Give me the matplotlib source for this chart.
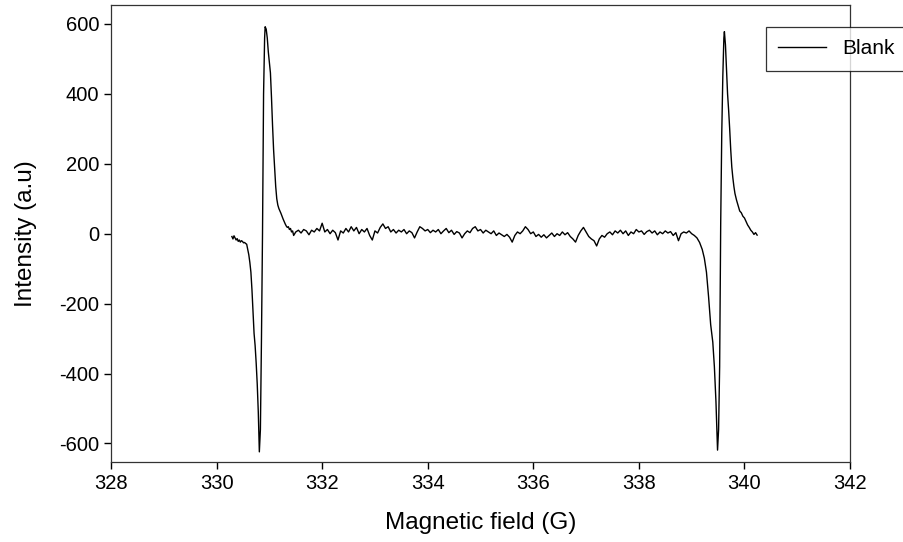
import numpy as np
import matplotlib.pyplot as plt

plt.rcParams['font.family'] = ['Liberation Sans', 'DejaVu Sans']
plt.rcParams['axes.unicode_minus'] = False

# left line (start, dip, peak, decay)
field_left = [330.29, 330.31, 330.33, 330.35, 330.37, 330.39, 330.41, 330.43, 330.45, 330.47,
              330.49, 330.51, 330.53, 330.55, 330.57, 330.59, 330.61, 330.63, 330.65, 330.67,
              330.69, 330.71, 330.73, 330.75, 330.77, 330.79, 330.81, 330.83, 330.85, 330.87,
              330.89, 330.91, 330.92, 330.94, 330.96, 330.98, 331.00, 331.02, 331.04, 331.06,
              331.08, 331.10, 331.12, 331.14, 331.16, 331.18, 331.20, 331.22, 331.24, 331.26,
              331.28, 331.30, 331.32, 331.34, 331.36, 331.38, 331.40, 331.42, 331.44, 331.46]
int_left = [-8, -15, -6, -12, -18, -14, -22, -18, -24, -20,
            -22, -26, -25, -28, -30, -45, -60, -82, -110, -160,
            -220, -285, -320, -370, -430, -510, -624, -560, -304, 0,
            400, 560, 592, 585, 560, 520, 490, 460, 390, 310,
            240, 185, 135, 100, 82, 72, 65, 58, 50, 42,
            35, 28, 22, 18, 20, 12, 15, 5, 8, -5]

# flat noisy baseline between the lines
field_mid = [331.50, 331.55, 331.60, 331.65, 331.70, 331.75, 331.80, 331.85, 331.90, 331.95,
             332.00, 332.05, 332.10, 332.15, 332.20, 332.25, 332.30, 332.35, 332.40, 332.45,
             332.50, 332.55, 332.60, 332.65, 332.70, 332.75, 332.80, 332.85, 332.90, 332.95,
             333.00, 333.05, 333.10, 333.15, 333.20, 333.25, 333.30, 333.35, 333.40, 333.45,
             333.50, 333.55, 333.60, 333.65, 333.70, 333.75, 333.80, 333.85, 333.90, 333.95,
             334.00, 334.05, 334.10, 334.15, 334.20, 334.25, 334.30, 334.35, 334.40, 334.45,
             334.50, 334.55, 334.60, 334.65, 334.70, 334.75, 334.80, 334.85, 334.90, 334.95,
             335.00, 335.05, 335.10, 335.15, 335.20, 335.25, 335.30, 335.35, 335.40, 335.45,
             335.50, 335.55, 335.60, 335.65, 335.70, 335.75, 335.80, 335.85, 335.90, 335.95,
             336.00, 336.05, 336.10, 336.15, 336.20, 336.25, 336.30, 336.35, 336.40, 336.45,
             336.50, 336.55, 336.60, 336.65, 336.70, 336.75, 336.80, 336.85, 336.90, 336.95,
             337.00, 337.05, 337.10, 337.15, 337.20, 337.25, 337.30, 337.35, 337.40, 337.45,
             337.50, 337.55, 337.60, 337.65, 337.70, 337.75, 337.80, 337.85, 337.90, 337.95,
             338.00, 338.05, 338.10, 338.15, 338.20, 338.25, 338.30, 338.35, 338.40, 338.45,
             338.50, 338.55, 338.60, 338.65, 338.70, 338.75, 338.80, 338.85, 338.90, 338.95,
             339.00, 339.05, 339.10]
int_mid = [5, 10, 2, 12, 8, -3, 10, 5, 15, 8,
           30, 5, 12, 0, 10, 3, -18, 8, 2, 15,
           5, 20, 8, 18, 0, 12, 5, 15, -5, -18,
           8, 2, 18, 28, 15, 20, 5, 12, 2, 10,
           5, 12, 0, 8, 3, -12, 5, 20, 15, 8,
           12, 3, 10, 5, 12, 0, 8, 15, 3, 10,
           -2, 6, 2, -12, 0, 8, 3, 15, 20, 8,
           12, 2, 10, 5, 0, 8, -5, 2, -3, -8,
           -2, -10, -24, -5, 5, 0, 8, 20, 12, 0,
           5, -8, -2, -10, -3, -12, -5, 2, -8, 0,
           -5, 5, -3, 3, -8, -15, -24, -5, 8, 18,
           5, -8, -15, -20, -35, -15, -5, -10, 0, 5,
           -3, 8, 2, 10, 0, 8, -5, 5, 0, 12,
           5, 8, -2, 6, 10, 2, 8, -3, 5, 0,
           8, 2, 6, -5, 3, -20, 0, 5, 2, 8,
           0, -5, -12]

# right line
field_right = [339.15, 339.20, 339.24, 339.28, 339.32, 339.36, 339.40, 339.43, 339.46, 339.48,
               339.49, 339.51, 339.53, 339.55, 339.57, 339.59, 339.61, 339.62, 339.64, 339.66,
               339.68, 339.70, 339.72, 339.74, 339.76, 339.78, 339.80, 339.82, 339.85, 339.88,
               339.91, 339.94, 339.97, 340.00, 340.03, 340.06, 340.09, 340.12, 340.15, 340.18,
               340.21, 340.24]
int_right = [-25, -45, -70, -110, -180, -260, -310, -380, -480, -570,
             -619, -560, -380, 30, 287, 450, 560, 578, 540, 470,
             400, 354, 300, 240, 191, 160, 135, 115, 96, 80,
             65, 60, 50, 45, 35, 25, 18, 10, 5, -2,
             3, -4]

field = np.array(field_left + field_mid + field_right)
intensity = np.array(int_left + int_mid + int_right)

fig = plt.figure(figsize=(9.04, 5.42), dpi=100)
ax = fig.add_axes([0.1228, 0.1476, 0.8175, 0.8424])

ax.plot(field, intensity, color='black', lw=1.0, label='Blank')

ax.set_xlim(328, 342)
ax.set_ylim(-653, 653)
ax.set_xticks([328, 330, 332, 334, 336, 338, 340, 342])
ax.set_yticks([-600, -400, -200, 0, 200, 400, 600])
ax.tick_params(direction='out', length=5, width=1, labelsize=14.5, top=False, right=False)
for s in ax.spines.values():
    s.set_linewidth(0.9)
    s.set_color('#333333')

ax.set_xlabel('Magnetic field (G)', fontsize=17.5, labelpad=14)
ax.set_ylabel('Intensity (a.u)', fontsize=17.5, labelpad=16)

leg = fig.legend(loc='upper left', bbox_to_anchor=(766 / 904, 1 - 27 / 542), borderaxespad=0,
                 fontsize=15, frameon=True, fancybox=False, shadow=False,
                 handlelength=2.3, handletextpad=0.75, borderpad=0.6)
leg.get_frame().set_edgecolor('black')
leg.get_frame().set_linewidth(0.9)

fig.savefig('out.png', dpi=100)
